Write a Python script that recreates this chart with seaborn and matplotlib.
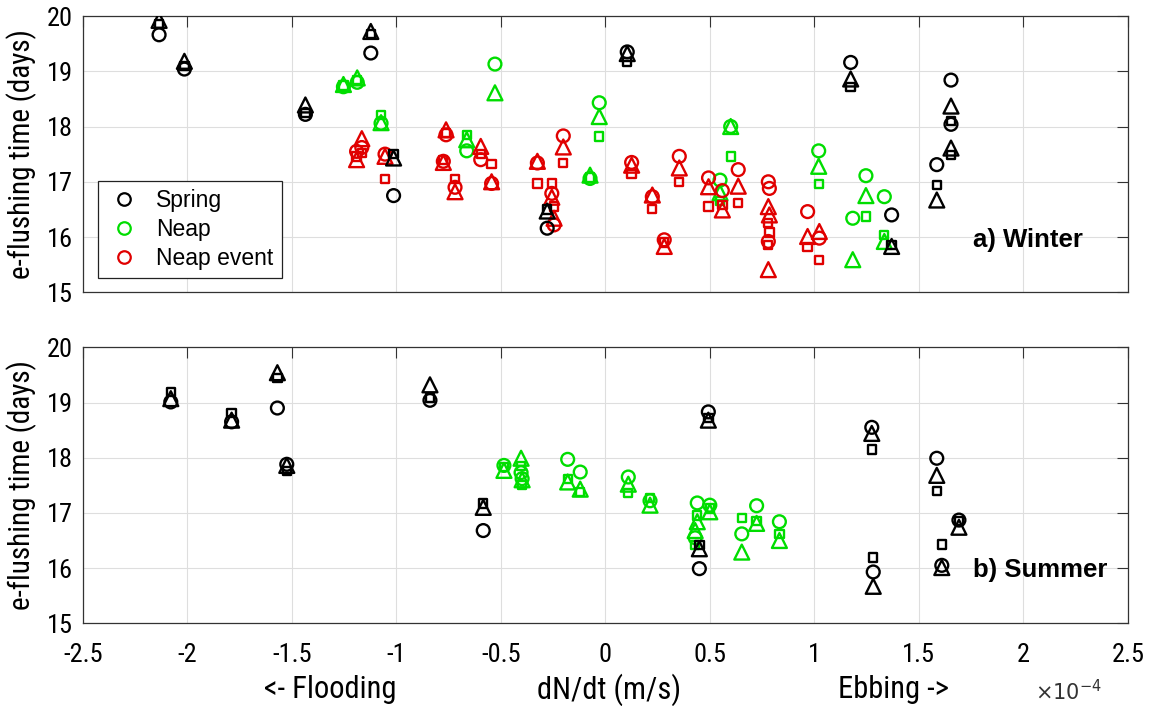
import numpy as np
import pandas as pd
import matplotlib
matplotlib.use("Agg")
import matplotlib.pyplot as plt
from matplotlib import font_manager
from matplotlib.lines import Line2D
import seaborn as sns

# ---------------------------------------------------------------------------
# e-flushing time (days) against dN/dt (in units of 1e-4 m/s)
# Each event carries three estimates: circle, triangle and square markers.
# ---------------------------------------------------------------------------

# Winter - spring tides
w_spring_x = [-2.135, -2.014, -1.435, -1.122, -1.013, -0.278, 0.105, 1.174, 1.370, 1.586, 1.654, 1.654]
w_spring_circle = [19.66, 19.04, 18.22, 19.33, 16.75, 16.16, 19.35, 19.16, 16.40, 17.31, 18.84, 18.04]
w_spring_triangle = [19.92, 19.18, 18.39, 19.72, 17.43, 16.47, 19.32, 18.86, 15.83, 16.67, 18.37, 17.61]
w_spring_square = [19.85, 19.10, 18.25, 19.68, 17.50, 16.50, 19.17, 18.72, 15.86, 16.94, 18.10, 17.48]

# Winter - neap tides
w_neap_x = [-1.253, -1.187, -1.073, -0.663, -0.528, -0.073, -0.029, 0.549, 0.600, 1.021, 1.184, 1.247, 1.335]
w_neap_circle = [18.72, 18.80, 18.06, 17.56, 19.13, 17.06, 18.43, 17.03, 18.00, 17.56, 16.34, 17.11, 16.73]
w_neap_triangle = [18.76, 18.88, 18.07, 17.76, 18.61, 17.12, 18.18, 16.80, 18.00, 17.28, 15.59, 16.75, 15.92]
w_neap_square = [18.74, 18.84, 18.21, 17.85, np.nan, 17.08, 17.82, 16.65, 17.46, 16.96, np.nan, 16.37, 16.04]

# Winter - neap events
w_event_x = [-1.190, -1.165, -1.054, -0.775, -0.762, -0.719, -0.596, -0.544, -0.325, -0.256, -0.245,
             -0.201, 0.126, 0.225, 0.282, 0.354, 0.494, 0.560, 0.636, 0.780, 0.785, 0.780, 0.968, 1.024]
w_event_circle = [17.55, 17.62, 17.50, 17.37, 17.85, 16.90, 17.40, 16.97, 17.34, 16.79, 16.22,
                  17.83, 17.35, 16.73, 15.95, 17.46, 17.07, 16.84, 17.22, 17.00, 16.88, 15.92, 16.46, 15.98]
w_event_triangle = [17.40, 17.78, 17.46, 17.35, 17.94, 16.82, 17.64, 17.00, 17.37, 16.72, 16.34,
                    17.63, 17.30, 16.76, 15.83, 17.25, 16.91, 16.49, 16.92, 16.55, 16.40, 15.41, 16.01, 16.10]
w_event_square = [17.46, 17.52, 17.05, 17.40, 17.88, 17.05, 17.50, 17.32, 16.97, 16.97, 16.55,
                  17.34, 17.14, 16.51, 15.90, 16.99, 16.55, 16.58, 16.62, 16.25, 16.08, 15.86, 15.82, 15.59]

# Summer - spring tides
s_spring_x = [-2.079, -1.788, -1.569, -1.524, -0.839, -0.584, 0.450, 0.493, 1.275, 1.282, 1.586, 1.610, 1.692]
s_spring_circle = [19.01, 18.65, 18.90, 17.88, 19.04, 16.68, 15.99, 18.83, 18.55, 15.93, 17.99, 16.05, 16.87]
s_spring_triangle = [19.07, 18.68, 19.54, 17.86, 19.32, 17.10, 16.35, 18.68, 18.44, 15.67, 17.68, 16.01, 16.74]
s_spring_square = [19.19, 18.81, 19.44, 17.76, 19.08, 17.17, 16.42, 18.72, 18.15, 16.19, 17.40, 16.43, 16.85]

# Summer - neap tides
s_neap_x = [-0.485, -0.403, -0.398, -0.180, -0.120, 0.110, 0.214, 0.440, 0.430, 0.500, 0.653, 0.724, 0.833]
s_neap_circle = [17.86, 17.73, 17.62, 17.97, 17.74, 17.65, 17.22, 17.18, 16.55, 17.14, 16.62, 17.13, 16.84]
s_neap_triangle = [17.77, 17.99, 17.60, 17.56, 17.43, 17.52, 17.14, 16.84, 16.68, 17.02, 16.29, 16.81, 16.50]
s_neap_square = [17.83, 17.85, 17.50, 17.62, 17.38, 17.36, 17.27, 16.95, 16.42, 17.08, 16.91, 16.85, 16.62]

tide_labels = ["Spring", "Neap", "Neap event"]
x_ticks = [-2.5, -2, -1.5, -1, -0.5, 0, 0.5, 1, 1.5, 2, 2.5]
x_tick_labels = ["-2.5", "-2", "-1.5", "-1", "-0.5", "0", "0.5", "1", "1.5", "2", "2.5"]
y_ticks = [15, 16, 17, 18, 19, 20]
y_tick_labels = ["15", "16", "17", "18", "19", "20"]

# ---------------------------------------------------------------------------
# Long-form table
# ---------------------------------------------------------------------------
groups = [
    ("Winter", "Spring", w_spring_x, w_spring_circle, w_spring_triangle, w_spring_square),
    ("Winter", "Neap", w_neap_x, w_neap_circle, w_neap_triangle, w_neap_square),
    ("Winter", "Neap event", w_event_x, w_event_circle, w_event_triangle, w_event_square),
    ("Summer", "Spring", s_spring_x, s_spring_circle, s_spring_triangle, s_spring_square),
    ("Summer", "Neap", s_neap_x, s_neap_circle, s_neap_triangle, s_neap_square),
]
rows = []
for season, tide, xs, circ, tri, sq in groups:
    for metric, vals in (("circle", circ), ("triangle", tri), ("square", sq)):
        for xv, yv in zip(xs, vals):
            if not np.isnan(yv):
                rows.append(dict(season=season, tide=tide, metric=metric, dndt=xv, days=yv))
df = pd.DataFrame(rows)

# ---------------------------------------------------------------------------
# Styling
# ---------------------------------------------------------------------------
sns.set_theme(style="white")
ttf = font_manager.fontManager.ttflist
names = {f.name for f in ttf}
MAIN = "Liberation Sans" if "Liberation Sans" in names else "DejaVu Sans"

# a condensed face for tick labels and captions, if one is installed
narrow_family, narrow_stretch = MAIN, "normal"
for cand in ["Liberation Sans Narrow", "Roboto Condensed", "Open Sans Condensed", "Noto Sans Condensed"]:
    if cand in names:
        narrow_family = cand
        break
else:
    for f in ttf:
        if f.stretch in ("condensed", "semi-condensed") and f.style == "normal" and f.weight in (400, "normal"):
            narrow_family, narrow_stretch = f.name, f.stretch
            break

plt.rcParams["font.family"] = [MAIN, "DejaVu Sans"]
for key in ["text.color", "axes.labelcolor", "xtick.color", "ytick.color"]:
    plt.rcParams[key] = "black"

narrow = dict(family=[narrow_family, "DejaVu Sans"], stretch=narrow_stretch)

colors = {"Spring": "#000000", "Neap": "#00dd00", "Neap event": "#e00000"}
markers = {"circle": "o", "triangle": "^", "square": "s"}
sizes = {"circle": 85, "triangle": 115, "square": 36}
draw_order = ["Neap", "Neap event", "Spring"]

W, H = 1151, 706
fig = plt.figure(figsize=(W / 100, H / 100), dpi=100)
ax_left, ax_right = 82.8, 1127.8
panels = {"Winter": (16.0, 292.3), "Summer": (347.3, 623.3)}
axes = {}
for season, (top, bot) in panels.items():
    axes[season] = fig.add_axes([ax_left / W, 1 - bot / H, (ax_right - ax_left) / W, (bot - top) / H])

for season, ax in axes.items():
    sub = df[df.season == season]
    for tide in draw_order:
        for metric in ["square", "triangle", "circle"]:
            part = sub[(sub.tide == tide) & (sub.metric == metric)]
            if part.empty:
                continue
            sns.scatterplot(data=part, x="dndt", y="days", ax=ax, marker=markers[metric],
                            s=sizes[metric], color=colors[tide], facecolor="none",
                            edgecolor=colors[tide], linewidth=1.7, legend=False, zorder=3)
    ax.set_xlim(-2.5, 2.5)
    ax.set_ylim(15, 20)
    ax.set_xticks(x_ticks)
    ax.set_yticks(y_ticks)
    ax.set_yticklabels(y_tick_labels, fontsize=19, **narrow)
    ax.grid(True, color="#dedede", linewidth=0.8, zorder=0)
    ax.set_axisbelow(True)
    ax.tick_params(direction="in", length=8, width=0.8, color="#333333",
                   top=True, right=True, pad=7)
    for sp in ax.spines.values():
        sp.set_color("#333333")
        sp.set_linewidth(0.9)
    ax.set_xlabel("")
    ax.set_ylabel("e-flushing time (days)", fontsize=21, **narrow)
    ax.yaxis.set_label_coords(-0.044, 0.5)

axes["Winter"].tick_params(labelbottom=False)
axes["Summer"].set_xticklabels(x_tick_labels, fontsize=19, **narrow)
axes["Summer"].tick_params(axis="x", pad=14)

axes["Winter"].text(0.852, 0.189, "a) Winter", transform=axes["Winter"].transAxes,
                    fontsize=18.5, fontweight="bold", ha="left", va="center", color="black")
axes["Summer"].text(0.852, 0.193, "b) Summer", transform=axes["Summer"].transAxes,
                    fontsize=18.5, fontweight="bold", ha="left", va="center", color="black")

# Legend: circle markers only
handles = [Line2D([], [], marker="o", ls="", mfc="none", mec=colors[t], mew=1.6, ms=9)
           for t in tide_labels]
leg = axes["Winter"].legend(handles, tide_labels, loc="lower left",
                            bbox_to_anchor=(0.0145, 0.052), borderaxespad=0,
                            fontsize=16.5, frameon=True, fancybox=False, framealpha=1,
                            edgecolor="#222222", handletextpad=0.6, labelspacing=0.25,
                            borderpad=0.35, handlelength=1.6)
leg.get_frame().set_linewidth(0.9)

# Axis caption beneath the lower panel
cap_kw = dict(fontsize=22, ha="center", va="center", **narrow)
fig.text(330 / W, 1 - 690 / H, "<- Flooding", **cap_kw)
fig.text(609 / W, 1 - 690 / H, "dN/dt (m/s)", **cap_kw)
fig.text(893 / W, 1 - 690 / H, "Ebbing ->", **cap_kw)
fig.text(1068 / W, 1 - 692 / H, r"$\times10^{-4}$", fontsize=15, ha="center", va="center",
         color="#333333")

fig.savefig("out.png", dpi=100)
